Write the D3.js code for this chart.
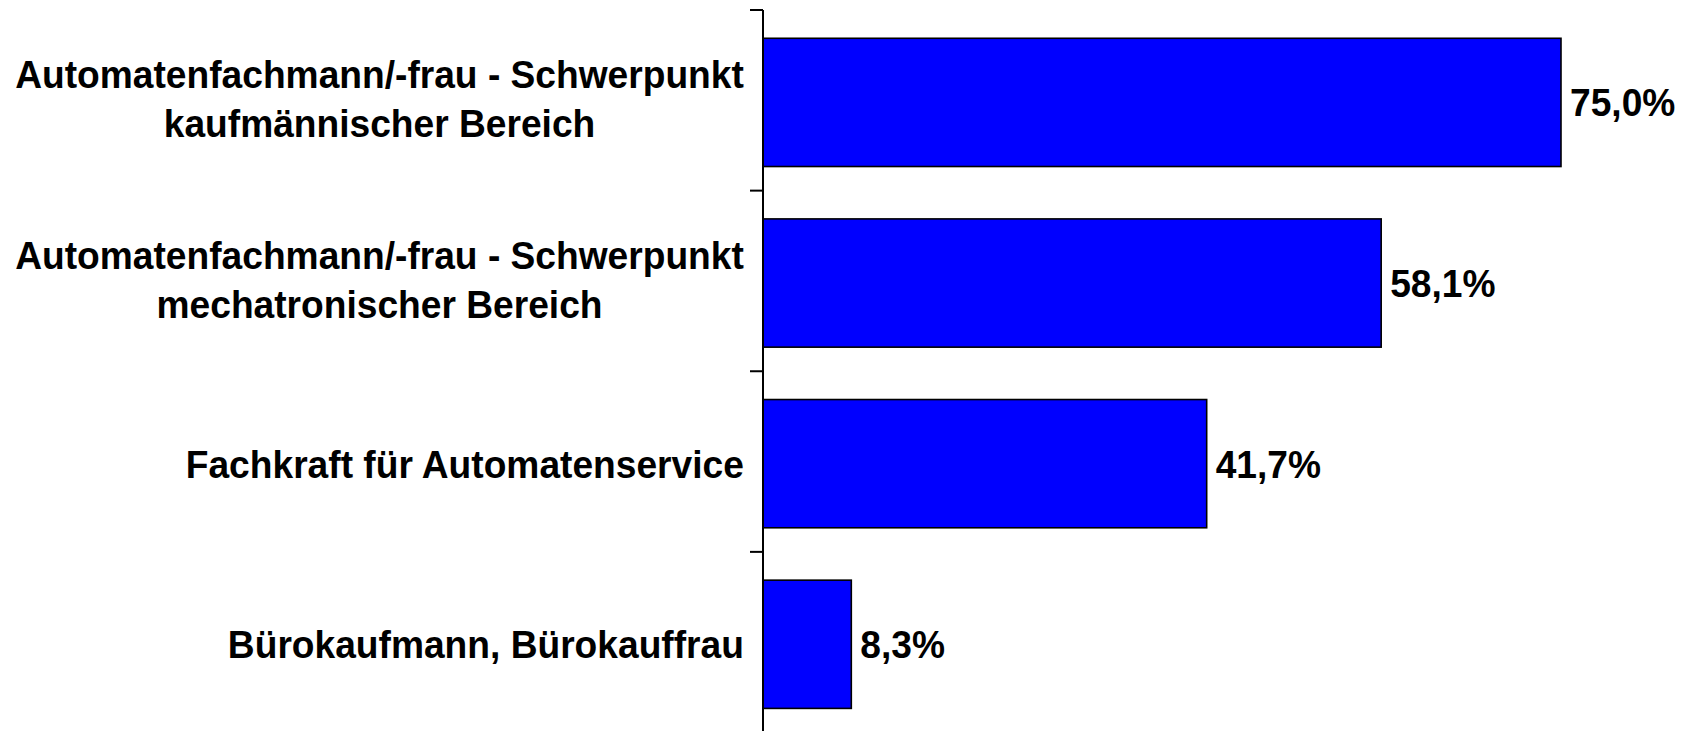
<!DOCTYPE html>
<html>
<head>
<meta charset="utf-8">
<script src="https://cdn.jsdelivr.net/npm/d3@7"></script>
<style>
  body { margin: 0; background: #fff; }
  text { font-family: "Liberation Sans", Arial, sans-serif; font-weight: bold; fill: #000; }
</style>
</head>
<body>
<div id="chart"></div>
<script>
// Categories (each as its label lines) and values in percent
const categories = [
    ["Automatenfachmann/-frau - Schwerpunkt", "kaufmännischer Bereich"],
    ["Automatenfachmann/-frau - Schwerpunkt", "mechatronischer Bereich"],
    ["Fachkraft für Automatenservice"],
    ["Bürokaufmann, Bürokauffrau"]
];
const values = [75.0, 58.1, 41.7, 8.3];
const valueLabels = ["75,0%", "58,1%", "41,7%", "8,3%"];

let width = 1691, height = 731;
let axis_x = 763, label_right = 744;
let squeeze = 0.953;

let svg = d3.select("#chart")
    .append("svg")
    .attr("width", width)
    .attr("height", height);

// Scales
let x = d3.scaleLinear().domain([0, 75]).range([axis_x, 1561]);
let y = d3.scaleBand()
    .domain(d3.range(categories.length))
    .range([10, 732.5])
    .paddingInner(0.29)
    .paddingOuter(0.145)
    .align(0.54);

// Bars
svg.append("g")
    .selectAll("rect")
    .data(values)
    .enter().append("rect")
    .attr("x", x(0))
    .attr("y", function(d, i) { return y(i); })
    .attr("width", function(d) { return x(d) - x(0); })
    .attr("height", y.bandwidth())
    .attr("fill", "#0000ff")
    .attr("stroke", "#000")
    .attr("stroke-width", 1.6);

// Axis line and ticks between categories
let step = y.step();
let y0 = y.range()[0];
svg.append("line")
    .attr("x1", axis_x).attr("x2", axis_x)
    .attr("y1", y0).attr("y2", height)
    .attr("stroke", "#000").attr("stroke-width", 2);
svg.append("g")
    .selectAll("line")
    .data(d3.range(categories.length + 1))
    .enter().append("line")
    .attr("x1", axis_x - 13).attr("x2", axis_x)
    .attr("y1", function(i) { return y0 + i * step; })
    .attr("y2", function(i) { return y0 + i * step; })
    .attr("stroke", "#000").attr("stroke-width", 2);

// Value labels
svg.append("g")
    .selectAll("g")
    .data(values)
    .enter().append("g")
    .attr("transform", function(d, i) {
        return `translate(${x(d) + 9}, ${y(i) + y.bandwidth() / 2 + 14}) scale(${squeeze}, 1)`;
    })
    .append("text")
    .style("font-size", "39px")
    .text(function(d, i) { return valueLabels[i]; });

// Category labels: block right-aligned, lines centered within the block
categories.forEach(function(lines, i) {
    let cy = y(i) + y.bandwidth() / 2;
    let g = svg.append("g");
    let texts = lines.map(function(line) {
        return g.append("text").style("font-size", "39px").text(line);
    });
    let w = d3.max(texts, function(t) { return t.node().getComputedTextLength(); }) * squeeze;
    let cx = label_right - w / 2;
    let offsets = lines.length === 1 ? [14] : [-14, 35];
    texts.forEach(function(t, j) {
        t.attr("text-anchor", "middle")
            .attr("transform", `translate(${cx}, ${cy + offsets[j]}) scale(${squeeze}, 1)`);
    });
});
</script>
</body>
</html>
